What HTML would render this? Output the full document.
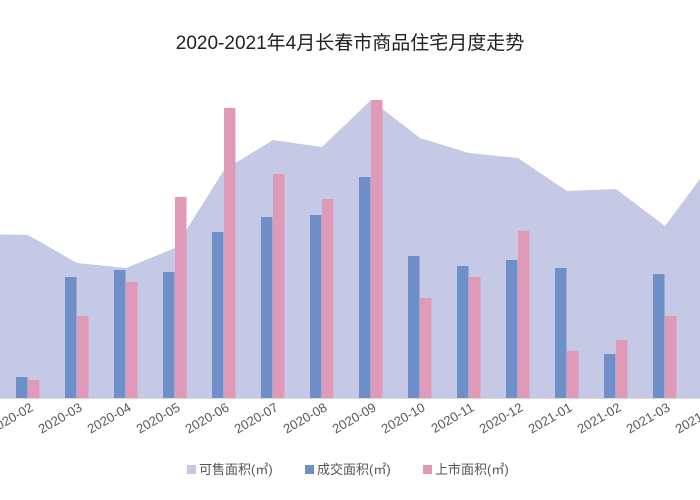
<!DOCTYPE html>
<html><head><meta charset="utf-8"><style>
body{margin:0;background:#fff;}
svg{display:block;font-family:"Liberation Sans","Noto Sans CJK SC",sans-serif;}
</style></head><body>
<svg id="chart" width="700" height="500" viewBox="0 0 700 500">
<text x="350" y="49" text-anchor="middle" font-size="19" fill="#222">2020-2021年4月长春市商品住宅月度走势</text>
<g id="area"></g><g id="bars"></g><g id="xlabels"></g>
<line x1="0" y1="398.5" x2="700" y2="398.5" stroke="#d9d9d9"/>
<g>
<g><rect x="187" y="465" width="9" height="9" fill="#c5c9e6"/><text x="199" y="474" font-size="13" fill="#555">可售面积(㎡)</text></g>
<g><rect x="305" y="465" width="9" height="9" fill="#6f8fc9"/><text x="317" y="474" font-size="13" fill="#555">成交面积(㎡)</text></g>
<g><rect x="423" y="465" width="9" height="9" fill="#e09ab8"/><text x="435" y="474" font-size="13" fill="#555">上市面积(㎡)</text></g>
</g>
</svg>
<script>
const categories=["2020-01","2020-02","2020-03","2020-04","2020-05","2020-06","2020-07","2020-08","2020-09","2020-10","2020-11","2020-12","2021-01","2021-02","2021-03","2021-04"];
const available=[16.4,16.3,13.5,13.0,15.0,22.8,25.8,25.1,29.8,26.0,24.5,24.0,20.7,20.9,17.2,23.8];
const sold=[0,2.1,12.1,12.8,12.6,16.6,18.1,18.3,22.1,14.2,13.2,13.8,13.0,4.4,12.4,12.0];
const listed=[0,1.8,8.2,11.6,20.1,29.0,22.4,19.9,29.8,10.0,12.1,16.7,4.7,5.8,8.2,9.0];
const NS="http://www.w3.org/2000/svg";
const x=i=>-21+49*i;
const y=v=>398-v*10;
function mk(t,a,p){const e=document.createElementNS(NS,t);for(const k in a)e.setAttribute(k,a[k]);p.appendChild(e);return e;}
let d="M"+x(0)+","+398;
available.forEach((v,i)=>{d+=" L"+x(i)+","+y(v);});
d+=" L"+x(available.length-1)+",398 Z";
const ar=mk("path",{d:d,fill:"#c5c9e6"},document.getElementById("area"));


const bg=document.getElementById("bars");
categories.forEach((c,i)=>{
 const b=mk("rect",{x:x(i)-12,y:y(sold[i]),width:11.5,height:398-y(sold[i]),fill:"#6f8fc9"},bg);
 
 
 const p=mk("rect",{x:x(i),y:y(listed[i]),width:11.5,height:398-y(listed[i]),fill:"#e09ab8"},bg);
 
 
 const t=mk("text",{x:x(i)+6,y:410,"text-anchor":"end","font-size":13,fill:"#595959",transform:"rotate(-30 "+(x(i)+6)+" 410)"},document.getElementById("xlabels"));
 t.textContent=c;
 
 
});
</script>
</body></html>
